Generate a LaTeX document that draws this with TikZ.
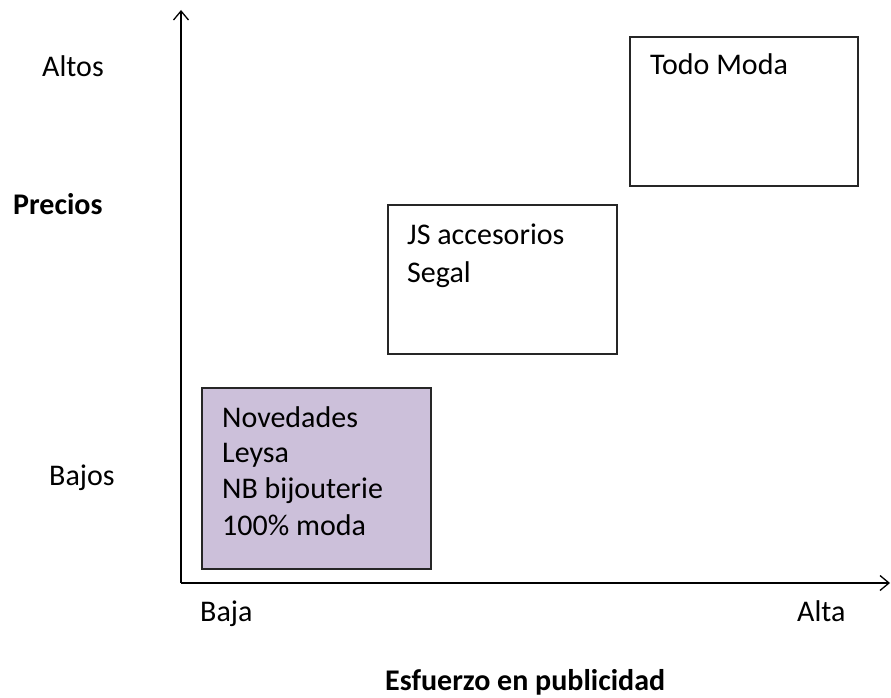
\documentclass[tikz,border=0pt]{standalone}
\usepackage{fontspec}
\setmainfont{Carlito}
\usetikzlibrary{arrows.meta}
\definecolor{lav}{HTML}{CCC0DA}
\tikzset{
  box/.style={draw=black!85, line width=1.4pt},
  lbl/.style={anchor=base west, inner sep=0pt, font=\fontsize{30}{36}\selectfont},
  blbl/.style={lbl, font=\fontsize{30}{36}\selectfont\bfseries},
  axis/.style={line width=1.3pt, -{Straight Barb[length=9pt,width=15pt,line width=1.3pt]}}
}
\begin{document}
\begin{tikzpicture}[x=1pt,y=-1pt]
\useasboundingbox (0,0) rectangle (891,698);
\coordinate (o) at (181,583);
\coordinate (ytop) at (181,10);
\coordinate (xend) at (890,583);
\draw[axis] (o) -- (ytop);
\draw[axis] (o) -- (xend);
\draw[box, fill=lav] (202,388) rectangle (431,569);
\draw[box] (388,205) rectangle (617,354);
\draw[box] (630,37) rectangle (858,186);
\node[lbl] (altos) at (42,77) {Altos};
\node[blbl] (precios) at (13,214) {Precios};
\node[lbl] (bajos) at (49,485) {Bajos};
\node[lbl] (baja) at (200,621) {Baja};
\node[lbl] (alta) at (797,621) {Alta};
\node[blbl] (esf) at (385,690) {Esfuerzo en publicidad};
\node[lbl] (todo) at (650,75) {Todo Moda};
\node[lbl] (js) at (407,244) {JS accesorios};
\node[lbl] (segal) at (407,282) {Segal};
\node[lbl] (nov) at (222,427) {Novedades};
\node[lbl] (leysa) at (222,462) {Leysa};
\node[lbl] (nb) at (222,498) {NB bijouterie};
\node[lbl] (cien) at (222,535) {100\% moda};
\end{tikzpicture}
\end{document}
